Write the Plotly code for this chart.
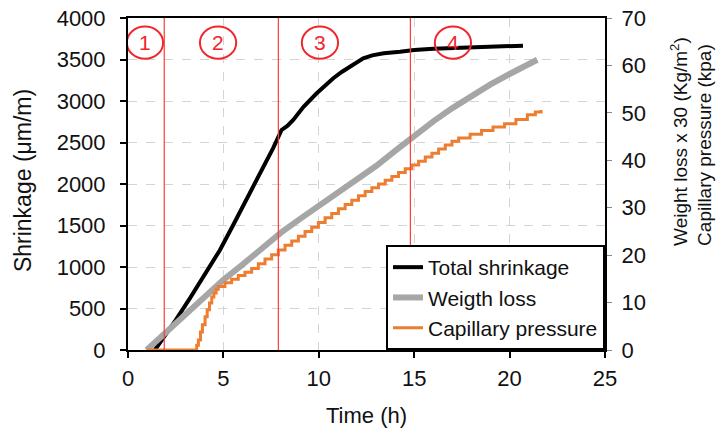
import plotly.graph_objects as go

# ---- data ----
t_shrink = [1.41, 2.0, 2.5, 3.25, 4.0, 4.82, 5.5, 6.39, 7.0, 7.6, 8.05, 8.35, 8.66, 9.2, 9.89,
            10.3, 10.76, 11.2, 11.64, 12.0, 12.33, 12.8, 13.4, 14.26, 15.0, 16.0, 17.0, 18.0,
            19.0, 20.0, 20.7]
shrinkage = [0, 190, 360, 626, 900, 1205, 1500, 1892, 2160, 2430, 2651, 2700, 2772, 2930, 3093,
             3185, 3274, 3350, 3414, 3480, 3515, 3550, 3575, 3594, 3615, 3630, 3638, 3645,
             3650, 3660, 3667]

t_weight = [0.98, 2, 3, 4, 5, 6, 7, 8, 9, 10, 11, 12, 13, 14, 15, 16, 17, 18, 19, 20, 21, 21.45]
weight_loss = [0, 3.8, 7.4, 11.2, 14.8, 18.0, 21.4, 24.7, 27.6, 30.4, 33.4, 36.2, 38.8, 42.0,
               45.2, 48.2, 51.0, 53.6, 56.0, 58.2, 60.2, 61.2]

t_cap = [0.98, 3.51, 3.6, 3.69, 3.8, 3.9, 4.04, 4.15, 4.27, 4.39, 4.5, 4.62, 4.73,
         5.08, 5.43, 5.78, 6.13, 6.48, 6.83, 7.18, 7.53, 7.88, 8.23, 8.58, 8.93, 9.28, 9.63,
         9.98, 10.33, 10.68, 11.03, 11.38, 11.73, 12.08, 12.43, 12.78, 13.13, 13.48, 13.83,
         14.18, 14.53, 14.88, 15.23, 15.58, 15.93, 16.28, 16.63, 16.98, 17.33, 17.93, 18.53,
         19.13, 19.73, 20.33, 20.93, 21.35, 21.65]
cap_pressure = [0, 0, 1.0, 2.1, 3.8, 5.3, 7.0, 8.5, 9.9, 11.2, 12.0, 12.8, 13.4,
                14.2, 14.9, 15.7, 16.4, 17.2, 18.2, 19.2, 20.1, 21.1, 22.1, 23.0, 24.0, 25.0, 25.9,
                26.9, 27.9, 28.8, 29.8, 30.7, 31.6, 32.5, 33.4, 34.2, 35.0, 35.8, 36.6,
                37.4, 38.2, 39.0, 39.8, 40.7, 41.5, 42.4, 43.2, 44.0, 44.7, 45.5, 46.3,
                47.0, 47.7, 48.6, 49.6, 50.2, 50.6]

phase_bounds = [1.9, 7.88, 14.8]
phase_labels = ["1", "2", "3", "4"]
phase_label_t = [0.89, 4.72, 10.06, 17.03]
phase_label_y = 3703

x_ticks = [0, 5, 10, 15, 20, 25]
y_ticks = list(range(0, 4001, 500))
y2_ticks = list(range(0, 71, 10))

FONT = "Liberation Sans, Arial, sans-serif"
RED = "#f0262b"

fig = go.Figure()
fig.add_trace(go.Scatter(x=t_shrink, y=shrinkage, mode="lines", name="Total shrinkage",
                         line=dict(color="black", width=4)))
fig.add_trace(go.Scatter(x=t_weight, y=weight_loss, mode="lines", name="Weigth loss",
                         line=dict(color="#a6a6a6", width=6), yaxis="y2"))
fig.add_trace(go.Scatter(x=t_cap, y=cap_pressure, mode="lines", name="Capillary pressure",
                         line=dict(color="#ed7d31", width=3, shape="hv"), yaxis="y2"))

shapes = []
for b in phase_bounds:
    shapes.append(dict(type="line", xref="x", yref="paper", x0=b, x1=b, y0=0, y1=1,
                       line=dict(color="#ff3a3a", width=1.2), layer="above"))
annotations = []
for lab, tx in zip(phase_labels, phase_label_t):
    shapes.append(dict(type="circle", xref="x", yref="y", x0=tx - 0.95, x1=tx + 0.95,
                       y0=phase_label_y - 195, y1=phase_label_y + 195,
                       line=dict(color=RED, width=2), layer="above"))
    annotations.append(dict(x=tx, y=phase_label_y, xref="x", yref="y", text=lab,
                            showarrow=False, font=dict(family=FONT, size=21, color=RED)))

# axis titles (y titles placed as annotations to match the reference layout)
annotations.append(dict(text="Shrinkage (μm/m)", xref="paper", yref="paper",
                        x=-0.22, y=0.509, xanchor="center", yanchor="middle",
                        textangle=-90, showarrow=False,
                        font=dict(family=FONT, size=23, color="#111")))
annotations.append(dict(text="Weight loss x 30 (Kg/m<sup>2</sup>)<br>Capillary pressure (kpa)",
                        xref="paper", yref="paper", x=1.181, y=0.307,
                        xanchor="center", yanchor="bottom", align="left",
                        textangle=-90, showarrow=False,
                        font=dict(family=FONT, size=19, color="#111")))

fig.update_layout(
    width=718, height=432,
    margin=dict(l=128, r=113, t=18, b=82, autoexpand=False),
    paper_bgcolor="white", plot_bgcolor="white",
    font=dict(family=FONT, size=22, color="#111"),
    showlegend=True,
    legend=dict(x=1, y=0, xanchor="right", yanchor="bottom", bgcolor="white",
                bordercolor="black", borderwidth=2, font=dict(size=21, color="#111"),
                tracegroupgap=0),
    shapes=shapes, annotations=annotations,
    xaxis=dict(range=[0, 25], tickvals=x_ticks, showline=True, linecolor="black", linewidth=2,
               mirror=True, ticks="outside", ticklen=6, tickwidth=2, tickcolor="black",
               showgrid=True, gridcolor="#d4d4d4", griddash="dash", gridwidth=1,
               zeroline=False, ticklabelstandoff=2, automargin=False,
               title=dict(text="Time (h)", font=dict(size=22), standoff=17)),
    yaxis=dict(range=[0, 4000], tickvals=y_ticks, showline=True, linecolor="black", linewidth=2,
               ticks="outside", ticklen=6, tickwidth=2, tickcolor="black",
               showgrid=True, gridcolor="#d4d4d4", griddash="dash", gridwidth=1,
               zeroline=False, ticklabelstandoff=10, automargin=False),
    yaxis2=dict(range=[0, 70], tickvals=y2_ticks, overlaying="y", side="right",
                showline=True, linecolor="black", linewidth=2,
                ticks="outside", ticklen=5, tickwidth=1, tickcolor="#888",
                showgrid=False, zeroline=False, ticklabelstandoff=5, automargin=False),
)

fig.write_html("out.html", config={"displayModeBar": False},
               post_script="document.body.style.margin='0px';document.body.style.overflow='hidden';")
